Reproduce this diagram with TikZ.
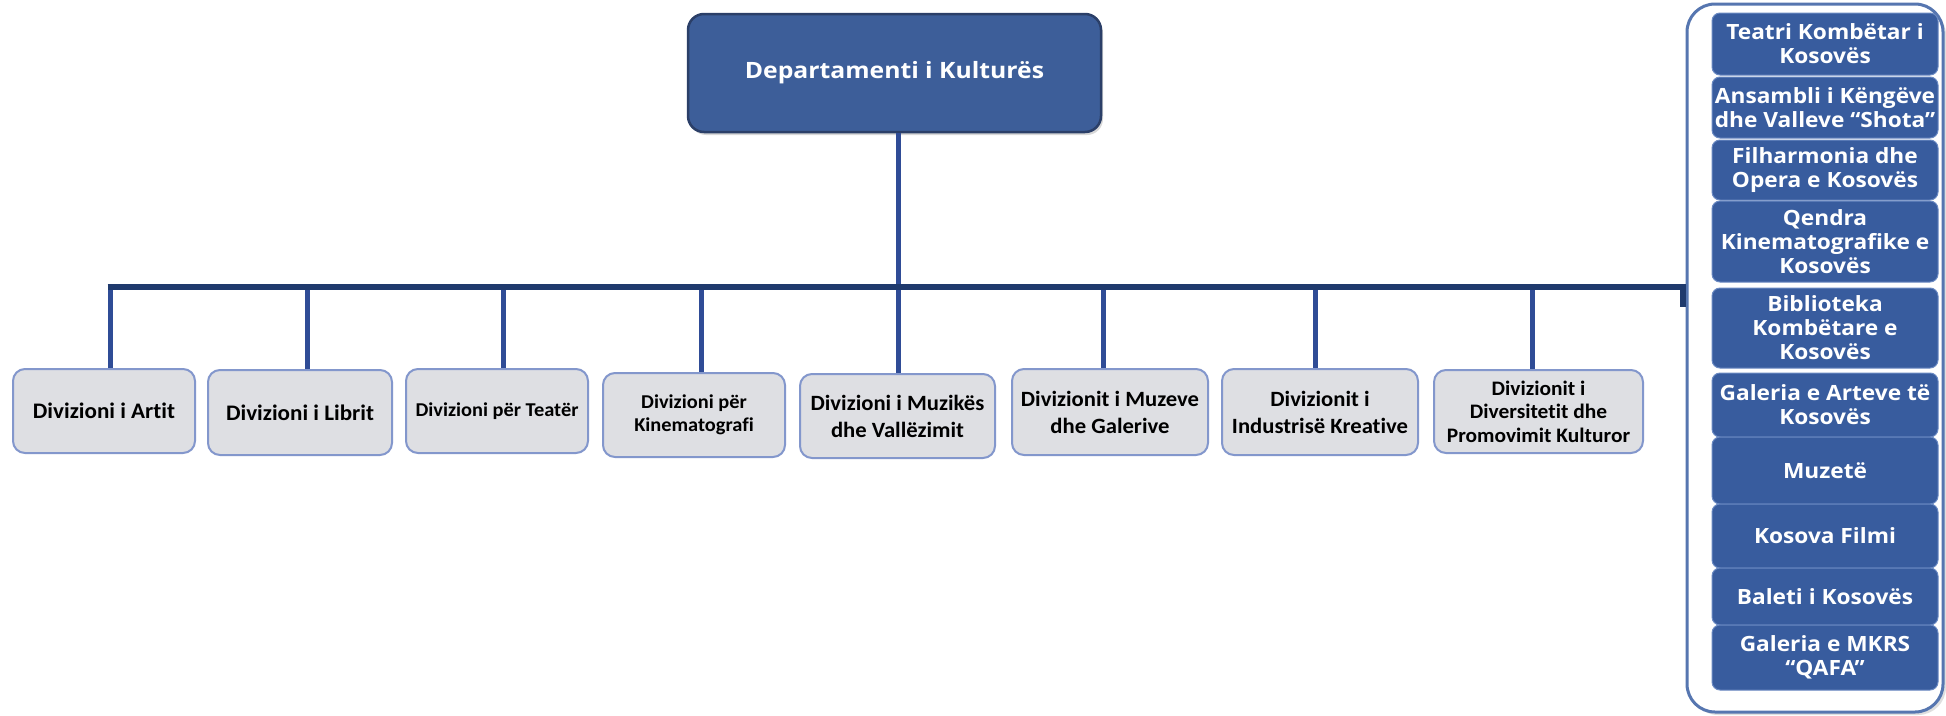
\documentclass[tikz,border=0pt]{standalone}
\usepackage{fontspec}
\setmainfont{Carlito}
\newfontfamily\carl{Carlito}[FakeStretch=1.04,Ligatures=NoCommon]
\newfontfamily\osans{Open Sans}[FakeStretch=1.08]
\newfontfamily\osanswide{Open Sans}[FakeStretch=1.1]
\usetikzlibrary{shadows}
\definecolor{topfill}{HTML}{3D5E99}
\definecolor{topdraw}{HTML}{2B3F68}
\definecolor{busc}{HTML}{1F3A6D}
\definecolor{vlinec}{HTML}{2F4C96}
\definecolor{divfill}{HTML}{DEDFE3}
\definecolor{divdraw}{HTML}{8397CC}
\definecolor{rfill}{HTML}{385C9E}
\definecolor{rdraw}{HTML}{6A89C2}
\definecolor{contdraw}{HTML}{5676B0}
\begin{document}
\begin{tikzpicture}[x=1pt,y=-1pt,
  topbox/.style={rectangle, rounded corners=16pt, fill=topfill, draw=topdraw, line width=2.5pt,
    text=white, align=center, font=\osanswide\bfseries\fontsize{22.5}{26}\selectfont,
    drop shadow={opacity=0.3, shadow xshift=2pt, shadow yshift=-3pt}},
  divbox/.style={rectangle, rounded corners=12pt, fill=divfill, draw=divdraw, line width=2pt,
    text=black, align=center, inner sep=2pt},
  rbox/.style={rectangle, rounded corners=8pt, fill=rfill, draw=rdraw, line width=1pt,
    text=white, align=center, inner sep=0pt, minimum width=226pt,
    font=\osans\bfseries\fontsize{21}{24}\selectfont},
  container/.style={rectangle, rounded corners=28pt, fill=white, draw=contdraw, line width=3pt,
    drop shadow={opacity=0.25, shadow xshift=3pt, shadow yshift=-3pt}},
  bus/.style={draw=busc, line width=6pt},
  vline/.style={draw=vlinec, line width=5pt}
]
\useasboundingbox (0,0) rectangle (1946,715);
\fill[white] (0,0) rectangle (1946,715);

% right container
\node[container, minimum width=256pt, minimum height=708pt] (cont) at (1815,358) {};

% top box
\node[topbox, minimum width=413pt, minimum height=118pt] (top) at (894.5,73) {Departamenti i Kulturës};

% division boxes
\node[divbox, minimum width=182pt, minimum height=84pt, font=\carl\bfseries\fontsize{22.2}{27}\selectfont] (b1) at (104,411) {Divizioni i Artit};
\node[divbox, minimum width=184pt, minimum height=85pt, font=\carl\bfseries\fontsize{22.2}{27}\selectfont] (b2) at (300,412.5) {Divizioni i Librit};
\node[divbox, minimum width=182pt, minimum height=84pt, font=\carl\bfseries\fontsize{19.6}{23}\selectfont] (b3) at (497,411) {Divizioni për Teatër};
\node[divbox, minimum width=182pt, minimum height=84pt, font=\carl\bfseries\fontsize{19.6}{23}\selectfont] (b4) at (694,415) {Divizioni për\\Kinematografi};
\node[divbox, minimum width=195pt, minimum height=84pt, font=\carl\bfseries\fontsize{21.8}{27}\selectfont] (b5) at (897.5,416) {Divizioni i Muzikës\\dhe Vallëzimit};
\node[divbox, minimum width=196pt, minimum height=86pt, font=\carl\bfseries\fontsize{21.8}{27}\selectfont] (b6) at (1110,412) {Divizionit i Muzeve\\dhe Galerive};
\node[divbox, minimum width=196pt, minimum height=86pt, font=\carl\bfseries\fontsize{21.8}{27}\selectfont] (b7) at (1320,412) {Divizionit i\\Industrisë Kreative};
\node[divbox, minimum width=209pt, minimum height=83pt, font=\carl\bfseries\fontsize{20.6}{23.5}\selectfont] (b8) at (1538.5,411.5) {Divizionit i\\Diversitetit dhe\\Promovimit Kulturor};

% right boxes
\node[rbox, minimum height=62pt] (r1) at (1825,44) {Teatri Kombëtar i\\Kosovës};
\node[rbox, minimum height=61pt] (r2) at (1825,107.5) {Ansambli i Këngëve\\dhe Valleve “Shota”};
\node[rbox, minimum height=60pt] (r3) at (1825,170) {Filharmonia dhe\\Opera e Kosovës};
\node[rbox, minimum height=81pt] (r4) at (1825,241.5) {Qendra\\Kinematografike e\\Kosovës};
\node[rbox, minimum height=80pt] (r5) at (1825,328) {Biblioteka\\Kombëtare e\\Kosovës};
\node[rbox, minimum height=64pt] (r6) at (1825,405) {Galeria e Arteve të\\Kosovës};
\node[rbox, minimum height=67pt] (r7) at (1825,470.5) {Muzetë};
\node[rbox, minimum height=64pt] (r8) at (1825,536) {Kosova Filmi};
\node[rbox, minimum height=57pt] (r9) at (1825,596.5) {Baleti i Kosovës};
\node[rbox, minimum height=65pt] (r10) at (1825,657.5) {Galeria e MKRS\\“QAFA”};

% bus tap points
\coordinate (t1) at (110,287);
\coordinate (t2) at (307,287);
\coordinate (t3) at (503,287);
\coordinate (t4) at (701,287);
\coordinate (t5) at (898,287);
\coordinate (t6) at (1103,287);
\coordinate (t7) at (1315,287);
\coordinate (t8) at (1532,287);
\coordinate (busR) at (1683,287);

% connectors
\draw[vline] (t5 |- top.south) -- (t5);
\foreach \i in {1,...,8} {
  \draw[vline] (t\i) -- (t\i |- b\i.north);
}
\draw[bus] ([xshift=-2.5pt]t1) -- (busR) -- ++(0,20);
\end{tikzpicture}
\end{document}
